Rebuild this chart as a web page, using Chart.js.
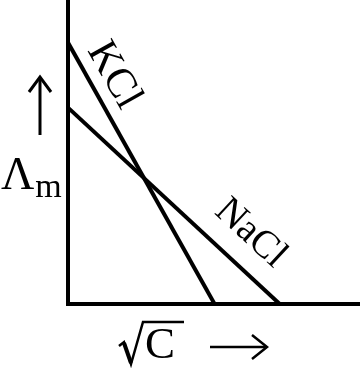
<!DOCTYPE html>
<html>
<head>
<meta charset="utf-8">
<script src="https://cdn.jsdelivr.net/npm/chart.js@4"></script>
<style>
  html, body { margin: 0; padding: 0; background: #fff; }
  #wrap { width: 360px; height: 368px; }
</style>
</head>
<body>
<div id="wrap"><canvas id="condChart"></canvas></div>
<script>
// data (arbitrary units, axes have no ticks)
const series = ['KCl', 'NaCl'];
const kclX = [0, 5.02];
const kclY = [8.6, 0];
const naclX = [0, 7.25];
const naclY = [6.46, 0];
const xLabel = 'C';
const yLabel = 'Λ';
const ySub = 'm';

const serif = '"Liberation Serif", "DejaVu Serif", serif';

function pts(xs, ys) {
    return xs.map((x, i) => ({ x: x, y: ys[i] }));
}

// label on a line: fraction along it, offset to the upper right, font size
const lineLabels = [
    { t: 0.17, off: 24, size: 42 },
    { t: 0.76, off: 32, size: 39 }
];

const labelPlugin = {
    id: 'labels',
    afterDraw(chart) {
        const c = chart.ctx;
        const area = chart.chartArea;
        c.save();
        c.fillStyle = '#000';
        c.strokeStyle = '#000';

        // series names along their lines
        chart.data.datasets.forEach((ds, i) => {
            const meta = chart.getDatasetMeta(i);
            const p0 = meta.data[0], p1 = meta.data[meta.data.length - 1];
            const dx = p1.x - p0.x, dy = p1.y - p0.y;
            const len = Math.hypot(dx, dy);
            const nx = dy / len, ny = -dx / len;
            const lab = lineLabels[i];
            const cx = p0.x + dx * lab.t + nx * lab.off;
            const cy = p0.y + dy * lab.t + ny * lab.off;
            c.save();
            c.translate(cx, cy);
            c.rotate(Math.atan2(dy, dx));
            c.font = lab.size + 'px ' + serif;
            c.textAlign = 'center';
            c.textBaseline = 'middle';
            c.fillText(ds.label, 0, 0);
            c.restore();
        });

        // y axis title: arrow up and Λm
        c.lineWidth = 3;
        const ax = area.left - 28;
        c.beginPath();
        c.moveTo(ax, 135);
        c.lineTo(ax, 79);
        c.stroke();
        c.beginPath();
        c.moveTo(ax - 11, 92);
        c.lineTo(ax, 77);
        c.lineTo(ax + 11, 92);
        c.stroke();

        c.textAlign = 'left';
        c.textBaseline = 'alphabetic';
        c.font = '46px ' + serif;
        c.fillText(yLabel, 1, 189);
        const lw = c.measureText(yLabel).width;
        c.font = '34px ' + serif;
        c.fillText(ySub, 1 + lw + 1, 197);

        // x axis title: √C and arrow right
        c.lineWidth = 2.5;
        c.lineJoin = 'miter';
        c.beginPath();
        c.moveTo(119, 346);
        c.lineTo(124, 342);
        c.lineTo(131, 364);
        c.lineTo(143, 322);
        c.lineTo(184, 322);
        c.stroke();
        c.lineWidth = 4;
        c.beginPath();
        c.moveTo(124, 343);
        c.lineTo(131, 363);
        c.stroke();
        c.font = '45px ' + serif;
        c.fillText(xLabel, 145, 358);

        c.lineWidth = 2.5;
        c.beginPath();
        c.moveTo(210, 347);
        c.lineTo(265, 347);
        c.stroke();
        c.beginPath();
        c.moveTo(252, 335);
        c.lineTo(267, 347);
        c.lineTo(252, 359);
        c.stroke();
        c.restore();
    }
};

const ctx = document.getElementById('condChart').getContext('2d');

const condChart = new Chart(ctx, {
    type: 'scatter',
    data: {
        datasets: [
            {
                label: series[0],
                data: pts(kclX, kclY),
                showLine: true,
                borderColor: '#000',
                borderWidth: 4,
                pointRadius: 0
            },
            {
                label: series[1],
                data: pts(naclX, naclY),
                showLine: true,
                borderColor: '#000',
                borderWidth: 4,
                pointRadius: 0
            }
        ]
    },
    options: {
        responsive: true,
        maintainAspectRatio: false,
        animation: false,
        layout: {
            padding: { left: 68, right: 0, top: 0, bottom: 64 }
        },
        plugins: {
            legend: { display: false },
            tooltip: { enabled: false }
        },
        scales: {
            x: {
                type: 'linear',
                min: 0,
                max: 10,
                ticks: { display: false },
                grid: { display: false, drawTicks: false },
                border: { color: '#000', width: 4 }
            },
            y: {
                min: 0,
                max: 10,
                ticks: { display: false },
                grid: { display: false, drawTicks: false },
                border: { color: '#000', width: 4 }
            }
        }
    },
    plugins: [labelPlugin]
});
</script>
</body>
</html>
